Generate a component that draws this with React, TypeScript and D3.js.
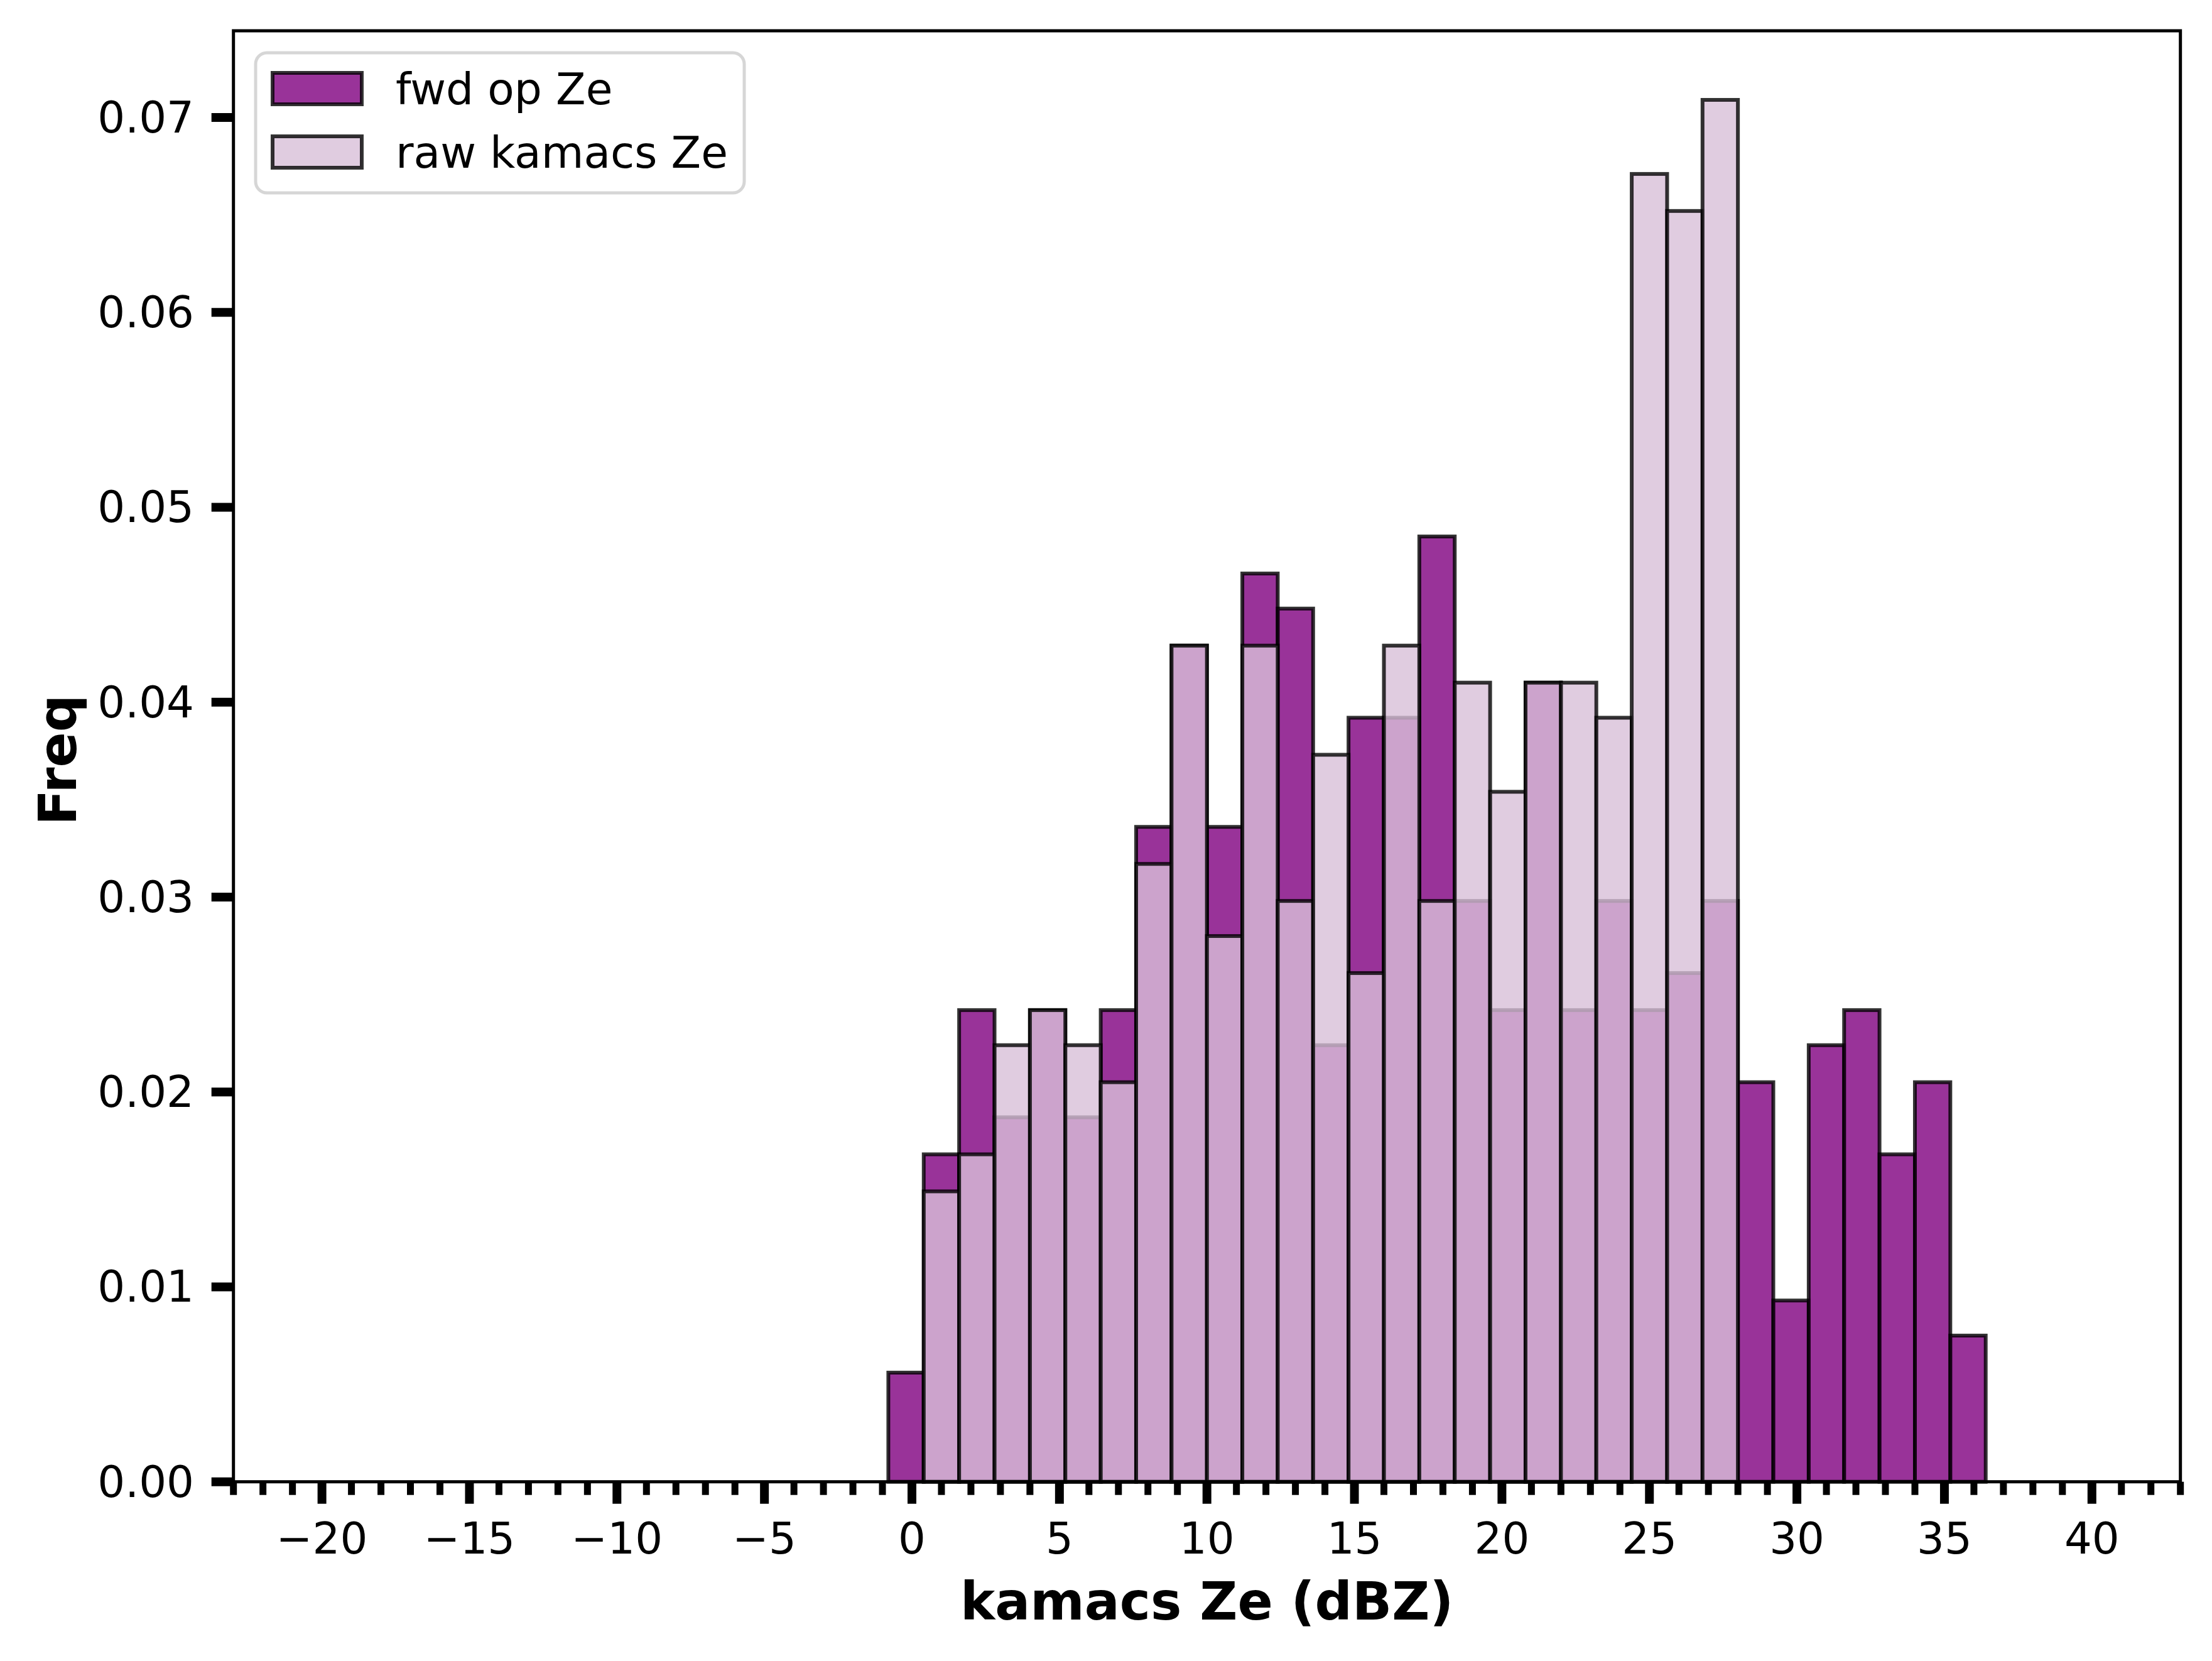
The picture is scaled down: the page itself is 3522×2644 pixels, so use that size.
import { scaleLinear, range } from 'd3';

const WIDTH = 3522;
const HEIGHT = 2644;
const M = { left: 371.7, right: 3471.7, top: 49, bottom: 2358.7 };

const FONT = '"DejaVu Sans", sans-serif';
const PURPLE = '#800080';
const THISTLE = '#D8BFD8';

// histogram bins (left edges, width 1.2 dBZ)
const BIN_WIDTH = 1.2;
const binLeft = [
  -0.8, 0.4, 1.6, 2.8, 4.0, 5.2, 6.4, 7.6, 8.8, 10.0, 11.2, 12.4, 13.6, 14.8, 16.0, 17.2,
  18.4, 19.6, 20.8, 22.0, 23.2, 24.4, 25.6, 26.8, 28.0, 29.2, 30.4, 31.6, 32.8, 34.0, 35.2,
];
const fwdOpZe = [
  0.0056, 0.0168, 0.0242, 0.0187, 0.0242, 0.0187, 0.0242, 0.0336, 0.0429, 0.0336, 0.0466,
  0.0448, 0.0224, 0.0392, 0.0392, 0.0485, 0.0298, 0.0242, 0.041, 0.0242, 0.0298, 0.0242,
  0.0261, 0.0298, 0.0205, 0.0093, 0.0224, 0.0242, 0.0168, 0.0205, 0.0075,
];
const rawKamacsZe = [
  0, 0.0149, 0.0168, 0.0224, 0.0242, 0.0224, 0.0205, 0.0317, 0.0429, 0.028, 0.0429,
  0.0298, 0.0373, 0.0261, 0.0429, 0.0298, 0.041, 0.0354, 0.041, 0.041, 0.0392, 0.0671,
  0.0652, 0.0709, 0, 0, 0, 0, 0, 0, 0,
];

const xMajorTicks = [-20, -15, -10, -5, 0, 5, 10, 15, 20, 25, 30, 35, 40];
const xMinorTicks = range(-23, 44).filter(v => v % 5 !== 0);
const yTicks = [0, 0.01, 0.02, 0.03, 0.04, 0.05, 0.06, 0.07];

const seriesNames = ['fwd op Ze', 'raw kamacs Ze'];

const fmtX = (v: number) => (v < 0 ? `\u2212${Math.abs(v)}` : `${v}`);

export default function App() {
  const x = scaleLinear().domain([-23, 43]).range([M.left, M.right]);
  const yMax = Math.max(...fwdOpZe, ...rawKamacsZe) * 1.05;
  const y = scaleLinear().domain([0, yMax]).range([M.bottom, M.top]);

  const bars = (vals: number[], fill: string, key: string) =>
    vals.map((v, i) => (
      <rect
        key={`${key}-${i}`}
        x={x(binLeft[i])}
        y={y(v)}
        width={x(binLeft[i] + BIN_WIDTH) - x(binLeft[i])}
        height={y(0) - y(v)}
        fill={fill}
        fillOpacity={0.8}
        stroke="#000"
        strokeOpacity={0.8}
        strokeWidth={6}
      />
    ));

  return (
    <svg
      width={WIDTH}
      height={HEIGHT}
      style={{ position: 'absolute', left: 0, top: 0, background: '#fff' }}
      fontFamily={FONT}
    >
      <rect width={WIDTH} height={HEIGHT} fill="#fff" />

      {bars(fwdOpZe, PURPLE, 'fwd')}
      {bars(rawKamacsZe, THISTLE, 'raw')}

      {/* spines */}
      <rect
        x={M.left}
        y={M.top}
        width={M.right - M.left}
        height={M.bottom - M.top}
        fill="none"
        stroke="#000"
        strokeWidth={5}
      />

      {/* x ticks */}
      {xMinorTicks.map(t => (
        <line key={`mx${t}`} x1={x(t)} x2={x(t)} y1={M.bottom} y2={M.bottom + 21} stroke="#000" strokeWidth={11} />
      ))}
      {xMajorTicks.map(t => (
        <g key={`x${t}`}>
          <line x1={x(t)} x2={x(t)} y1={M.bottom} y2={M.bottom + 35} stroke="#000" strokeWidth={14} />
          <text x={x(t)} y={2473} fontSize={69} textAnchor="middle">
            {fmtX(t)}
          </text>
        </g>
      ))}

      {/* y ticks */}
      {yTicks.map(t => (
        <g key={`y${t}`}>
          <line x1={M.left - 35} x2={M.left} y1={y(t)} y2={y(t)} stroke="#000" strokeWidth={14} />
          <text x={309} y={y(t)} fontSize={69} textAnchor="end" dominantBaseline="central">
            {t.toFixed(2)}
          </text>
        </g>
      ))}

      {/* axis labels */}
      <text x={(M.left + M.right) / 2} y={2578} fontSize={83} fontWeight="bold" textAnchor="middle">
        kamacs Ze (dBZ)
      </text>
      <text
        transform={`translate(121, ${(M.top + M.bottom) / 2 + 6}) rotate(-90)`}
        fontSize={83}
        fontWeight="bold"
        textAnchor="middle"
      >
        Freq
      </text>

      {/* legend */}
      <rect x={407} y={84} width={778} height={223} rx={18} fill="#fff" fillOpacity={0.8} stroke="#ccc" strokeOpacity={0.8} strokeWidth={5} />
      {seriesNames.map((name, i) => (
        <g key={name} transform={`translate(0, ${i * 101})`}>
          <rect
            x={434}
            y={116}
            width={142}
            height={50}
            fill={i === 0 ? PURPLE : THISTLE}
            fillOpacity={0.8}
            stroke="#000"
            strokeOpacity={0.8}
            strokeWidth={6}
          />
          <text x={630} y={166} fontSize={69.5}>
            {name}
          </text>
        </g>
      ))}
    </svg>
  );
}
